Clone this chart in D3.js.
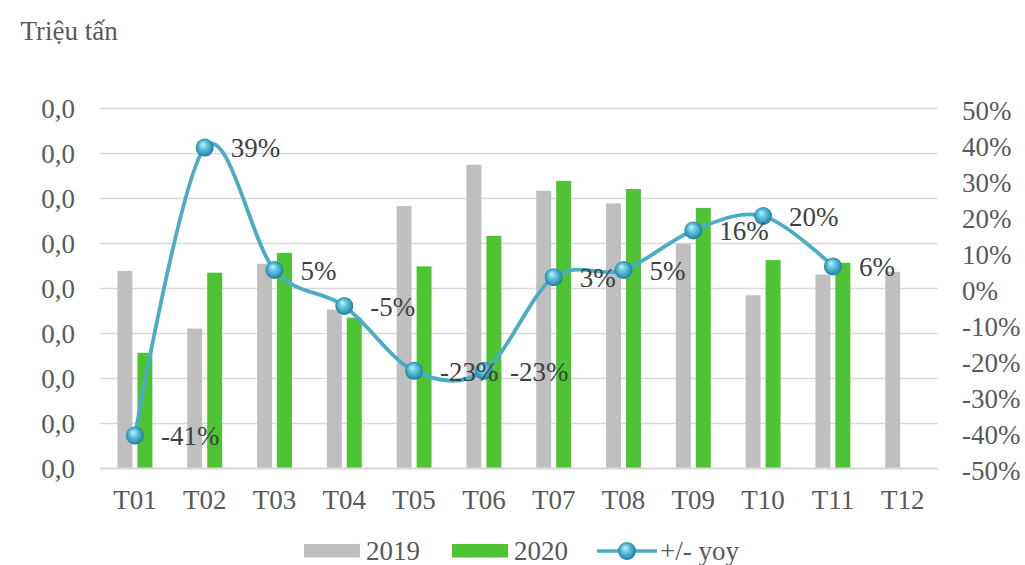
<!DOCTYPE html>
<html>
<head>
<meta charset="utf-8">
<script src="https://cdn.jsdelivr.net/npm/d3@7"></script>
<style>
  html, body { margin: 0; padding: 0; background: #fff; }
</style>
</head>
<body>
<svg id="chart" width="1025" height="565"></svg>
<script>
// Monthly volume (million tonnes) and year-on-year change
const months = ["T01","T02","T03","T04","T05","T06","T07","T08","T09","T10","T11","T12"];
const seriesNames = ["2019", "2020"];
const values2019 = [0.0219, 0.0155, 0.0227, 0.0176, 0.0291, 0.0337, 0.0308, 0.0294, 0.0249, 0.0192, 0.0215, 0.0218];
const values2020 = [0.0128, 0.0217, 0.0239, 0.0167, 0.0224, 0.0258, 0.0319, 0.0310, 0.0289, 0.0231, 0.0228, null];
const yoy = [-0.41, 0.39, 0.05, -0.05, -0.23, -0.23, 0.03, 0.05, 0.16, 0.20, 0.06, null];
const leftTicks = [0, 0.005, 0.01, 0.015, 0.02, 0.025, 0.03, 0.035, 0.04];
const rightTicks = [0.5, 0.4, 0.3, 0.2, 0.1, 0, -0.1, -0.2, -0.3, -0.4, -0.5];
const unitLabel = "Triệu tấn";
const lineName = "+/- yoy";

const colors = { "2019": "#BFBFBF", "2020": "#4EC435" };
const lineColor = "#4BACC6";
const axisText = "#595959";
const gridColor = "#D9D9D9";
const fontSize = 27;
const serif = "'Liberation Serif', Tinos, 'Times New Roman', 'DejaVu Serif', serif";

const locale = d3.formatLocale({ decimal: ",", thousands: ".", grouping: [3], currency: ["", ""], minus: "-" });
const fmtLeft = v => locale.format(".1f")(Math.floor(v * 10) / 10);
const fmtPct = locale.format(".0%");

const svg = d3.select("#chart").attr("font-family", serif);
const plot = { left: 100, right: 937.6, top: 108, bottom: 468 };

const x = d3.scaleBand().domain(months).range([plot.left, plot.right]).paddingInner(0.5).paddingOuter(0.25);
const x1 = d3.scaleBand().domain(seriesNames).range([0, x.bandwidth()]).paddingInner(0.25);
const yL = d3.scaleLinear().domain([0, 0.04]).range([plot.bottom, plot.top]);
const yR = d3.scaleLinear().domain([-0.5, 0.5]).range([plot.bottom, plot.top]);

// gradient for the spherical markers
const defs = svg.append("defs");
const grad = defs.append("radialGradient").attr("id", "ball").attr("cx", "50%").attr("cy", "50%").attr("r", "55%").attr("fx", "38%").attr("fy", "30%");
[["0%", "#C8F3FB"], ["35%", "#6ACBE3"], ["75%", "#3398BA"], ["100%", "#1F6F8C"]].forEach(([o, c]) =>
  grad.append("stop").attr("offset", o).attr("stop-color", c));

function styleText(sel, color) {
  sel.attr("font-size", fontSize).attr("fill", color).attr("font-family", serif);
}

// unit label
styleText(svg.append("text").attr("x", 20.5).attr("y", 40).text(unitLabel), axisText);

// gridlines
const gridAxis = d3.axisLeft(yL).tickValues(leftTicks).tickSize(-(plot.right - plot.left)).tickFormat("");
const grid = svg.append("g").attr("transform", `translate(${plot.left},0)`).call(gridAxis);
grid.select(".domain").remove();
grid.selectAll("line").attr("stroke", gridColor).attr("stroke-width", 1.6);

// left axis labels
const leftAxis = d3.axisLeft(yL).tickValues(leftTicks).tickFormat(fmtLeft).tickSize(0).tickPadding(0);
const gl = svg.append("g").attr("transform", `translate(75,0)`).call(leftAxis).attr("font-family", serif);
gl.select(".domain").remove();
styleText(gl.selectAll("text"), axisText);
gl.selectAll("text").attr("dy", "0.36em");

// right axis labels
const rightAxis = d3.axisRight(yR).tickValues(rightTicks).tickFormat(fmtPct).tickSize(0).tickPadding(0);
const gr = svg.append("g").attr("transform", `translate(962,2)`).call(rightAxis).attr("font-family", serif);
gr.select(".domain").remove();
styleText(gr.selectAll("text"), axisText);
gr.selectAll("text").attr("dy", "0.36em");

// category axis
const bottomAxis = d3.axisBottom(x).tickSize(0).tickPadding(0);
const gb = svg.append("g").attr("transform", `translate(0,${plot.bottom})`).call(bottomAxis).attr("font-family", serif);
gb.select(".domain").remove();
styleText(gb.selectAll("text"), axisText);
gb.selectAll("text").attr("dy", null).attr("y", 41);

// bars
const rows = months.map((m, i) => ({ m, vals: [{ s: "2019", v: values2019[i] }, { s: "2020", v: values2020[i] }] }));
svg.append("g").selectAll("g").data(rows).join("g")
  .attr("transform", d => `translate(${x(d.m)},0)`)
  .selectAll("rect").data(d => d.vals.filter(e => e.v != null)).join("rect")
  .attr("x", d => x1(d.s)).attr("width", x1.bandwidth())
  .attr("y", d => yL(d.v)).attr("height", d => yL(0) - yL(d.v))
  .attr("fill", d => colors[d.s]);

// baseline
svg.append("line").attr("x1", plot.left).attr("x2", plot.right).attr("y1", plot.bottom + 0.5).attr("y2", plot.bottom + 0.5)
  .attr("stroke", gridColor).attr("stroke-width", 2);

// yoy line
const pts = months.map((m, i) => ({ m, v: yoy[i] })).filter(d => d.v != null);
const cx = d => x(d.m) + x.bandwidth() / 2;
const line = d3.line().x(cx).y(d => yR(d.v)).curve(d3.curveCardinal.tension(0));
svg.append("path").datum(pts).attr("d", line).attr("fill", "none").attr("stroke", lineColor).attr("stroke-width", 3.8);

svg.append("g").selectAll("circle").data(pts).join("circle")
  .attr("cx", cx).attr("cy", d => yR(d.v)).attr("r", 9).attr("fill", "url(#ball)");

// value labels
const vl = svg.append("g").selectAll("text").data(pts).join("text")
  .attr("x", d => cx(d) + 26).attr("y", d => yR(d.v)).attr("dy", "0.36em").text(d => fmtPct(d.v));
styleText(vl, "#404040");

// legend
const lg = svg.append("g");
const ly = 551;
lg.append("rect").attr("x", 304).attr("y", ly - 7).attr("width", 56).attr("height", 13.5).attr("fill", colors["2019"]);
styleText(lg.append("text").attr("x", 366).attr("y", ly + 8.5).text(seriesNames[0]), axisText);
lg.append("rect").attr("x", 452).attr("y", ly - 7).attr("width", 56).attr("height", 13.5).attr("fill", colors["2020"]);
styleText(lg.append("text").attr("x", 514).attr("y", ly + 8.5).text(seriesNames[1]), axisText);
lg.append("line").attr("x1", 597).attr("x2", 657).attr("y1", ly).attr("y2", ly).attr("stroke", lineColor).attr("stroke-width", 3.6);
lg.append("circle").attr("cx", 627).attr("cy", ly).attr("r", 9).attr("fill", "url(#ball)");
styleText(lg.append("text").attr("x", 660).attr("y", ly + 8.5).text(lineName), axisText);
</script>
</body>
</html>
